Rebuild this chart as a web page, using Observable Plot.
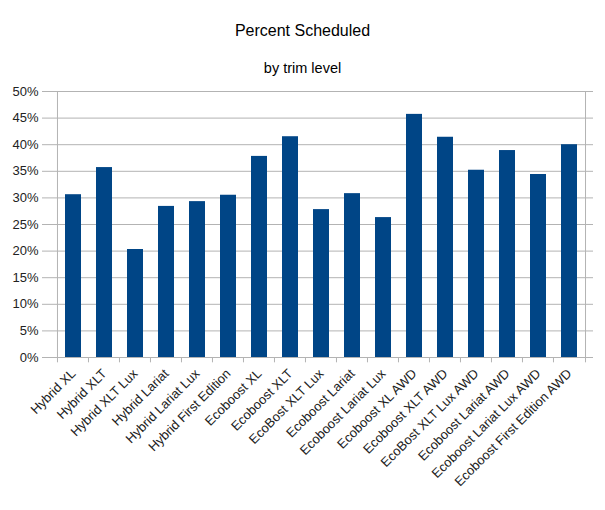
<!DOCTYPE html>
<html>
<head>
<meta charset="utf-8">
<script src="https://cdn.jsdelivr.net/npm/d3@7"></script>
<script src="https://cdn.jsdelivr.net/npm/@observablehq/plot@0.6"></script>
<style>
  html, body { margin: 0; padding: 0; background: #fff; }
  body { width: 605px; height: 510px; overflow: hidden; font-family: "Liberation Sans", Arial, sans-serif; }
  #title { position: absolute; left: 0; width: 605px; top: 21px; text-align: center; font-size: 16px; line-height: 20px; color: #000; }
  #subtitle { position: absolute; left: 0; width: 605px; top: 58px; text-align: center; font-size: 14.5px; line-height: 20px; color: #000; }
  #chart { position: absolute; left: 0; top: 80px; }
</style>
</head>
<body>
<div id="title">Percent Scheduled</div>
<div id="subtitle">by trim level</div>
<div id="chart"></div>
<script>
const trims = [
  "Hybrid XL", "Hybrid XLT", "Hybrid XLT Lux", "Hybrid Lariat", "Hybrid Lariat Lux",
  "Hybrid First Edition", "Ecoboost XL", "Ecoboost XLT", "EcoBost XLT Lux",
  "Ecoboost Lariat", "Ecoboost Lariat Lux", "Ecoboost XL AWD", "Ecoboost XLT AWD",
  "EcoBost XLT Lux AWD", "Ecoboost Lariat AWD", "Ecoboost Lariat Lux AWD",
  "Ecoboost First Edition AWD"
];
const pctScheduled = [
  0.306, 0.357, 0.203, 0.284, 0.293, 0.305, 0.378, 0.415, 0.278,
  0.308, 0.263, 0.457, 0.414, 0.352, 0.389, 0.344, 0.400
];
const yTicks = [0, 0.05, 0.10, 0.15, 0.20, 0.25, 0.30, 0.35, 0.40, 0.45, 0.50];

const data = trims.map((t, i) => ({trim: t, pct: pctScheduled[i]}));
const gridColor = "#b3b3b3";
const W = 605, H = 430, mL = 48, mR = 12;
const band = (W - mL - mR) / trims.length;

const chart = Plot.plot({
  width: W,
  height: H,
  marginTop: 11,
  marginBottom: 153,
  marginLeft: mL,
  marginRight: mR,
  style: {fontFamily: "Liberation Sans, Arial, sans-serif", fontSize: "13px", color: "#222", background: "#fff"},
  x: {domain: trims, padding: 0.5, align: 0.5, axis: null, label: null},
  y: {domain: [0, 0.5], axis: null, label: null},
  marks: [
    Plot.ruleY(yTicks, {stroke: gridColor, strokeWidth: 1}),
    Plot.ruleX([trims[0]], {x: d => d, dx: -band / 2, y1: 0, y2: 0.5, stroke: gridColor}),
    Plot.barY(data, {x: "trim", y: "pct", fill: "#004586"}),
    Plot.ruleX(trims, {x: d => d, dx: -band / 2, y1: 0, y2: -0.01, stroke: gridColor, clip: false}),
    Plot.ruleX([trims[trims.length - 1]], {x: d => d, dx: band / 2, y1: -0.01, y2: 0.5, stroke: gridColor, clip: false}),
    Plot.axisY({ticks: yTicks, tickFormat: d => Math.round(d * 100) + "%", tickSize: 6, tickPadding: 4, stroke: gridColor, fontSize: 13, fill: "#222", label: null}),
    Plot.axisX({tickRotate: -45, tickSize: 0, tickPadding: 14, fontSize: 13, fill: "#222", label: null})
  ]
});
document.getElementById("chart").appendChild(chart);
</script>
</body>
</html>
